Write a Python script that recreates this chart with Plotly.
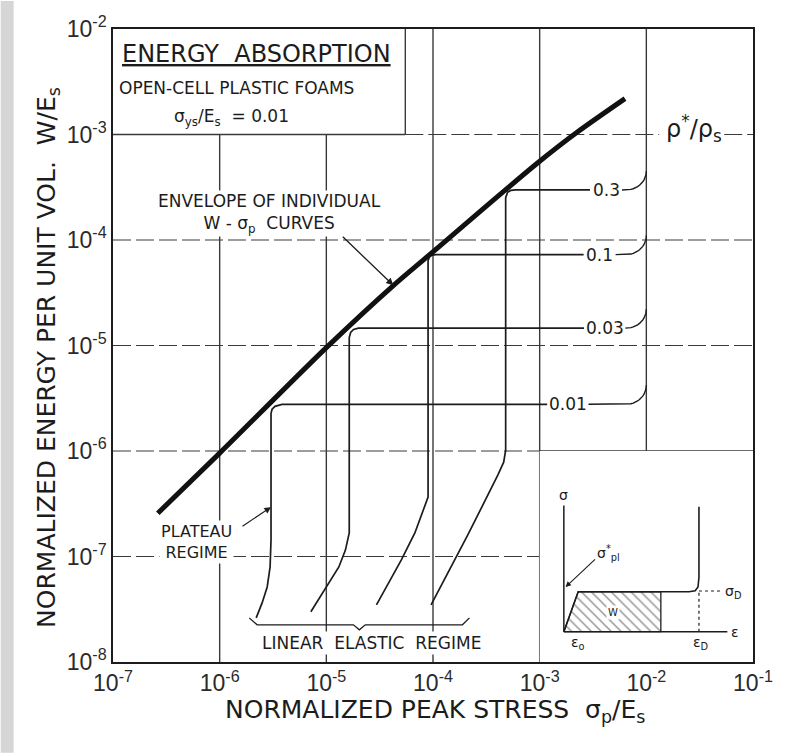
import numpy as np
import plotly.graph_objects as go

# ---------------- data ----------------
x_tick_vals = [1e-7, 1e-6, 1e-5, 1e-4, 1e-3, 1e-2, 1e-1]
x_tick_text = ["10<sup>-7</sup>", "10<sup>-6</sup>", "10<sup>-5</sup>", "10<sup>-4</sup>",
               "10<sup>-3</sup>", "10<sup>-2</sup>", "10<sup>-1</sup>"]
y_tick_vals = [1e-8, 1e-7, 1e-6, 1e-5, 1e-4, 1e-3, 1e-2]
y_tick_text = ["10<sup>-8</sup>", "10<sup>-7</sup>", "10<sup>-6</sup>", "10<sup>-5</sup>",
               "10<sup>-4</sup>", "10<sup>-3</sup>", "10<sup>-2</sup>"]

# envelope of individual W - sigma_p curves
envelope_stress = [2.63e-7, 1.0e-6, 1.0e-5, 4.27e-5, 1.12e-4, 3.16e-4, 9.55e-4, 2.24e-3, 6.31e-3]
envelope_energy = [2.57e-7, 9.55e-7, 9.55e-6, 3.72e-5, 8.51e-5, 2.09e-4, 5.37e-4, 1.05e-3, 2.19e-3]

# individual curves, relative density rho*/rho_s
density_labels = ["0.01", "0.03", "0.1", "0.3"]
stress_rho001 = [2.20e-6, 2.50e-6, 2.79e-6, 2.97e-6, 3.03e-6, 3.03e-6, 3.10e-6, 3.30e-6, 3.84e-6]
energy_rho001 = [2.62e-8, 3.63e-8, 5.14e-8, 7.96e-8, 1.43e-7, 2.28e-6, 2.49e-6, 2.65e-6, 2.77e-6]
stress_rho003 = [7.16e-6, 1.01e-5, 1.31e-5, 1.51e-5, 1.64e-5, 1.64e-5, 1.69e-5, 1.80e-5, 2.00e-5]
energy_rho003 = [2.99e-8, 5.14e-8, 7.96e-8, 1.15e-7, 1.67e-7, 1.19e-5, 1.33e-5, 1.42e-5, 1.46e-5]
stress_rho01 = [2.95e-5, 5.05e-5, 6.76e-5, 8.39e-5, 8.99e-5, 8.99e-5, 9.29e-5, 9.82e-5, 1.07e-4]
energy_rho01 = [3.48e-8, 9.27e-8, 1.67e-7, 2.94e-7, 3.66e-7, 6.38e-5, 6.97e-5, 7.20e-5, 7.27e-5]
stress_rho03 = [9.59e-5, 2.12e-4, 4.05e-4, 4.60e-4, 4.80e-4, 4.80e-4, 5.01e-4, 5.35e-4, 5.95e-4]
energy_rho03 = [3.48e-8, 1.60e-7, 5.90e-7, 7.83e-7, 1.02e-6, 2.52e-4, 2.84e-4, 2.95e-4, 2.98e-4]

# inset: schematic stress-strain curve (normalised units)
inset_strain = [0.0, 0.106, 0.926, 0.972, 0.993, 1.0, 1.0]
inset_stress = [0.0, 0.294, 0.294, 0.302, 0.33, 0.40, 0.92]
inset_w_strain_end = 0.718          # end of the hatched energy area W
inset_axis_strain_end = 1.21
inset_axis_stress_end = 0.93
inset_densification_strain = 1.0
inset_densification_stress = 0.30

# ---------------- styling / layout constants ----------------
FONT = "DejaVu Sans, Liberation Sans, Arial, sans-serif"
TICKFONT = "Liberation Sans Narrow, Liberation Sans, Arial, sans-serif"
INK = "#1c1c1c"
GRID_INK = "#3a3a3a"
W, H = 785, 753
ML, MR, MT, MB = 113, 28, 28, 91
PW, PH = W - ML - MR, H - MT - MB

BOX_RIGHT = 5.5e-5                  # right edge of title box
INSET_LEFT = x_tick_vals[4]
INSET_TOP = y_tick_vals[2]
RHO_GAP = (10 ** -1.88, 10 ** -1.27)
label_x_log = [-2.736, -2.391, -2.438, -2.378]   # positions of the curve labels
HOOK_DX, HOOK_DY = 0.19, 0.18

fig = go.Figure()


def add_segments(segs, color, width, dash="solid"):
    xs, ys = [], []
    for x0, y0, x1, y1 in segs:
        xs += [x0, x1, None]
        ys += [y0, y1, None]
    fig.add_trace(go.Scatter(x=xs, y=ys, mode="lines", hoverinfo="skip",
                             line=dict(color=color, width=width, dash=dash)))


# ---- grid lines (broken by title box and inset) ----
vseg = []
for xv in x_tick_vals[1:-1]:
    ytop = y_tick_vals[-1] if xv > BOX_RIGHT else y_tick_vals[-2]
    ybot = y_tick_vals[0] if xv <= INSET_LEFT else INSET_TOP
    vseg.append((xv, ybot, xv, ytop))
vseg.append((BOX_RIGHT, y_tick_vals[-2], BOX_RIGHT, y_tick_vals[-1]))
add_segments(vseg, GRID_INK, 1.4)

hdash, hsolid = [], []
xmin, xmax = x_tick_vals[0], x_tick_vals[-1]
for yv in y_tick_vals[1:-1]:
    if yv == y_tick_vals[-2]:
        hsolid.append((xmin, yv, BOX_RIGHT, yv))
        hdash.append((BOX_RIGHT, yv, RHO_GAP[0], yv))
        hdash.append((RHO_GAP[1], yv, xmax, yv))
    elif yv == INSET_TOP:
        hdash.append((xmin, yv, INSET_LEFT, yv))
        hsolid.append((INSET_LEFT, yv, xmax, yv))
    elif yv < INSET_TOP:
        hdash.append((xmin, yv, INSET_LEFT, yv))
    else:
        hdash.append((xmin, yv, xmax, yv))
add_segments(hdash, GRID_INK, 1.1, dash="18px,5px")
add_segments(hsolid, GRID_INK, 1.3)

# ---- individual curves ----
curves = [(stress_rho001, energy_rho001), (stress_rho003, energy_rho003),
          (stress_rho01, energy_rho01), (stress_rho03, energy_rho03)]
for (s, e), lab, lx in zip(curves, density_labels, label_x_log):
    hw = (len(lab) * 4.7 + 2) / (PW / 6)
    xs = list(s) + [10 ** (lx - hw)]
    ys = list(e) + [e[-1]]
    fig.add_trace(go.Scatter(x=xs, y=ys, mode="lines", hoverinfo="skip",
                             line=dict(color=INK, width=1.7)))
    # label hook up to the rho bracket (10^-2 line)
    ly = np.log10(e[-1])
    hs = np.log10(x_tick_vals[5]) - HOOK_DX
    t = np.linspace(0, 1, 14)
    hx = [lx + hw] + list(hs + HOOK_DX * np.sin(t * np.pi / 2))
    hy = [ly] + list(ly + HOOK_DY * (1 - np.cos(t * np.pi / 2)))
    fig.add_trace(go.Scatter(x=10 ** np.array(hx), y=10 ** np.array(hy), mode="lines",
                             hoverinfo="skip", line=dict(color=INK, width=1.4)))
    fig.add_annotation(x=lx, y=ly, xref="x", yref="y", text=lab, showarrow=False,
                       font=dict(size=17, family=FONT, color=INK))

# ---- envelope ----
fig.add_trace(go.Scatter(x=envelope_stress, y=envelope_energy, mode="lines",
                         hoverinfo="skip", line=dict(color="#111111", width=5, shape="spline",
                                                     smoothing=0.8)))

# ---- linear elastic brace ----
bl = np.log10(min(stress_rho001)) - 0.065
br = np.log10(stress_rho03[0]) + 0.36
bm = (bl + br) / 2
by = np.log10(min(energy_rho001)) - 0.066
brace_x = [bl, bl + 0.074, bm - 0.056, bm, bm + 0.056, br - 0.066, br]
brace_y = [by + 0.066, by, by, by - 0.047, by, by, by + 0.066]
fig.add_trace(go.Scatter(x=10 ** np.array(brace_x), y=10 ** np.array(brace_y), mode="lines",
                         hoverinfo="skip", line=dict(color=INK, width=1.3)))

# ---- inset (own linear axes) ----
hatch_x = [0.0, inset_strain[1], inset_w_strain_end, inset_w_strain_end, 0.0]
hatch_y = [0.0, inset_stress[1], inset_stress[2], 0.0, 0.0]
fig.add_trace(go.Scatter(x=hatch_x, y=hatch_y, xaxis="x2", yaxis="y2", mode="lines",
                         fill="toself", fillcolor="rgba(0,0,0,0)", hoverinfo="skip",
                         fillpattern=dict(shape="\\", fgcolor="#222222", bgcolor="white",
                                          size=7, solidity=0.2),
                         line=dict(color=INK, width=1.3)))
fig.add_trace(go.Scatter(x=[0, 0, None, 0, inset_axis_strain_end],
                         y=[inset_axis_stress_end, 0, None, 0, 0],
                         xaxis="x2", yaxis="y2", mode="lines", hoverinfo="skip",
                         line=dict(color=INK, width=1.5)))
fig.add_trace(go.Scatter(x=inset_strain, y=inset_stress, xaxis="x2", yaxis="y2", mode="lines",
                         hoverinfo="skip", line=dict(color=INK, width=1.6)))
fig.add_trace(go.Scatter(x=[inset_densification_strain, inset_densification_strain, None,
                            inset_densification_strain, inset_densification_strain + 0.17],
                         y=[0, inset_stress[2], None, inset_densification_stress,
                            inset_densification_stress],
                         xaxis="x2", yaxis="y2", mode="lines", hoverinfo="skip",
                         line=dict(color=INK, width=1.2, dash="3px,3px")))

# ---- gray scan edge on the left ----
fig.add_shape(type="rect", xref="paper", yref="paper", layer="below",
              x0=-ML / PW, x1=(13 - ML) / PW, y0=-MB / PH, y1=1 + MT / PH,
              fillcolor="#d6d6d6", line=dict(width=0))


# ---- annotations ----
def note(text, x, y, size=17, xanchor="center", yanchor="middle", bg=None, xref="x", yref="y",
         pad=1, **kw):
    fig.add_annotation(x=x, y=y, xref=xref, yref=yref, text=text, showarrow=False,
                       xanchor=xanchor, yanchor=yanchor,
                       font=dict(size=size, family=FONT, color=INK),
                       bgcolor=bg, borderpad=pad, **kw)


note("<u>ENERGY  ABSORPTION</u>", -6.935, -2.237, size=24, xanchor="left")
note("OPEN-CELL PLASTIC FOAMS", -6.963, -2.558, size=17, xanchor="left")
note("σ<sub>ys</sub>/E<sub>s</sub>  = 0.01", -6.45, -2.842, size=17, xanchor="left")
note("ENVELOPE OF INDIVIDUAL<br>W - σ<sub>p</sub>  CURVES", -5.53, -3.75, size=17, bg="white",
     pad=0)
note("ρ<sup>*</sup>/ρ<sub>s</sub>", -1.557, -2.946, size=24, bg="white")
note("PLATEAU<br>REGIME", -6.217, -6.86, size=16, bg="white")
note("LINEAR  ELASTIC  REGIME", -4.573, -7.82, size=17, bg="white")

# arrows
fig.add_annotation(x=-4.372, y=-4.43, xref="x", yref="y", text="", showarrow=True,
                   ax=-52, ay=-50, arrowhead=2, arrowsize=1.1, arrowwidth=1.3, arrowcolor=INK)
fig.add_annotation(x=np.log10(stress_rho001[5]), y=-6.532, xref="x", yref="y", text="",
                   showarrow=True, ax=-30, ay=20, arrowhead=2, arrowsize=1.1, arrowwidth=1.2,
                   arrowcolor=INK)

# axis titles
note("NORMALIZED ENERGY PER UNIT VOL.  W/E<sub>s</sub>", -0.1025, 0.481, size=25,
     xref="paper", yref="paper", textangle=-90)
note("NORMALIZED PEAK STRESS  σ<sub>p</sub>/E<sub>s</sub>", 0.503, -0.077, size=25,
     xref="paper", yref="paper")

# inset labels
note("σ", 0.0, 1.005, size=14, xref="x2", yref="y2")
note("σ<sup>*</sup><sub>pl</sub>", 0.33, 0.58, size=14, xref="x2", yref="y2")
note("W", 0.366, 0.145, size=10, xref="x2", yref="y2", bg="white")
note("σ<sub>D</sub>", 1.25, 0.292, size=14, xref="x2", yref="y2")
note("ε", 1.27, 0.0, size=14, xref="x2", yref="y2")
note("ε<sub>o</sub>", 0.108, -0.08, size=14, xref="x2", yref="y2")
note("ε<sub>D</sub>", 1.01, -0.08, size=14, xref="x2", yref="y2")
fig.add_annotation(x=0.0125, y=0.329, xref="x2", yref="y2", text="", showarrow=True,
                   ax=31, ay=-29, arrowhead=2, arrowsize=1, arrowwidth=1.1, arrowcolor=INK)

axis_common = dict(showgrid=False, zeroline=False, showline=True, mirror=True,
                   linecolor=INK, linewidth=1.6, ticks="",
                   tickfont=dict(size=23, family=TICKFONT, color="#2a2a2a"))
fig.update_layout(
    width=W, height=H, autosize=False, showlegend=False,
    margin=dict(l=ML, r=MR, t=MT, b=MB, pad=0),
    paper_bgcolor="white", plot_bgcolor="white",
    font=dict(family=FONT, color=INK),
    xaxis=dict(type="log", range=[-7, -1], tickvals=x_tick_vals, ticktext=x_tick_text,
               domain=[0, 1], **axis_common),
    yaxis=dict(type="log", range=[-8, -2], tickvals=y_tick_vals, ticktext=y_tick_text,
               domain=[0, 1], **axis_common),
    xaxis2=dict(domain=[4 / 6, 1], range=[-0.179, 1.400], anchor="y2", visible=False,
                fixedrange=True),
    yaxis2=dict(domain=[0, 2 / 6], range=[-0.223, 1.331], anchor="x2", visible=False,
                fixedrange=True),
)

fig.write_html("out.html")
